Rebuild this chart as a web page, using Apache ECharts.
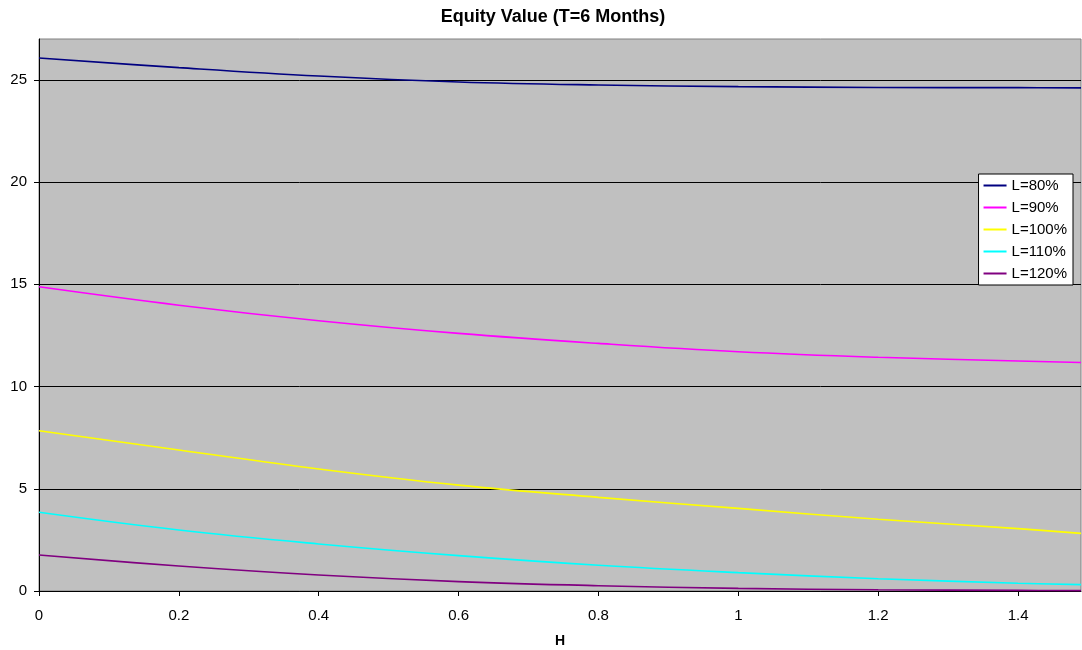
<!DOCTYPE html>
<html>
<head>
<meta charset="utf-8">
<script src="https://cdn.jsdelivr.net/npm/echarts@6/dist/echarts.min.js"></script>
<style>html,body{margin:0;padding:0;background:#fff}#c{width:1082px;height:650px}</style>
</head>
<body>
<div id="c"></div>
<script>
var hValues = [0, 0.2, 0.4, 0.6, 0.8, 1.0, 1.2, 1.4, 1.49];
var seriesNames = ['L=80%', 'L=90%', 'L=100%', 'L=110%', 'L=120%'];
var l80 = [26.07, 25.60, 25.19, 24.90, 24.75, 24.67, 24.63, 24.62, 24.61];
var l90 = [14.88, 13.98, 13.22, 12.60, 12.11, 11.70, 11.43, 11.25, 11.18];
var l100 = [7.84, 6.90, 5.97, 5.18, 4.58, 4.04, 3.51, 3.05, 2.82];
var l110 = [3.85, 2.98, 2.30, 1.73, 1.26, 0.90, 0.60, 0.38, 0.31];
var l120 = [1.76, 1.22, 0.78, 0.46, 0.26, 0.13, 0.06, 0.03, 0.02];
var xTicks = [0, 0.2, 0.4, 0.6, 0.8, 1.0, 1.2, 1.4];
var yTicks = [0, 5, 10, 15, 20, 25];
var colors = ['#000080', '#FF00FF', '#FFFF00', '#00FFFF', '#800080'];
var allData = [l80, l90, l100, l110, l120];

function pairs(arr) { return hValues.map(function (h, i) { return [h, arr[i]]; }); }

var chart = echarts.init(document.getElementById('c'));
var font = 'Arial, "Liberation Sans", sans-serif';
chart.setOption({
  animation: false,
  textStyle: { fontFamily: font },
  title: {
    text: 'Equity Value (T=6 Months)',
    left: 548, top: 3, textAlign: 'center',
    textStyle: { fontFamily: font, fontWeight: 'bold', fontSize: 18, color: '#000' }
  },
  grid: {
    left: 39, right: 1, top: 39, bottom: 59, outerBoundsMode: 'none', containLabel: false,
    show: true, backgroundColor: '#C0C0C0', borderColor: '#808080', borderWidth: 1
  },
  legend: {
    orient: 'vertical', right: 9, top: 174,
    backgroundColor: '#fff', borderColor: '#000', borderWidth: 1,
    padding: [4, 6, 4, 5], itemGap: 7, itemWidth: 23, itemHeight: 2, icon: 'rect',
    textStyle: { fontFamily: font, fontSize: 15, color: '#000', padding: [0, 0, 0, 0] },
    data: seriesNames
  },
  xAxis: {
    type: 'value', min: 0, max: 1.49, interval: 0.2,
    name: 'H', nameLocation: 'middle', nameGap: 43,
    nameTextStyle: { fontFamily: font, fontWeight: 'bold', fontSize: 14, color: '#000' },
    axisLine: { show: true, onZero: false, lineStyle: { color: '#000', width: 1 } },
    axisTick: { show: true, length: 5, lineStyle: { color: '#000' }, customValues: xTicks },
    axisLabel: { color: '#000', fontSize: 15, margin: 17, customValues: xTicks },
    splitLine: { show: false }
  },
  yAxis: {
    type: 'value', min: 0, max: 27, interval: 5,
    axisLine: { show: true, lineStyle: { color: '#000', width: 1 } },
    axisTick: { show: true, length: 5, lineStyle: { color: '#000' }, customValues: yTicks },
    axisLabel: { color: '#000', fontSize: 15, margin: 12, customValues: yTicks },
    splitLine: { show: true, lineStyle: { color: '#000', width: 1 } }
  },
  series: seriesNames.map(function (n, i) {
    return {
      name: n, type: 'line', data: pairs(allData[i]), smooth: 0.4,
      symbol: 'none', color: colors[i],
      lineStyle: { color: colors[i], width: 1.6 }
    };
  })
});
</script>
</body>
</html>
